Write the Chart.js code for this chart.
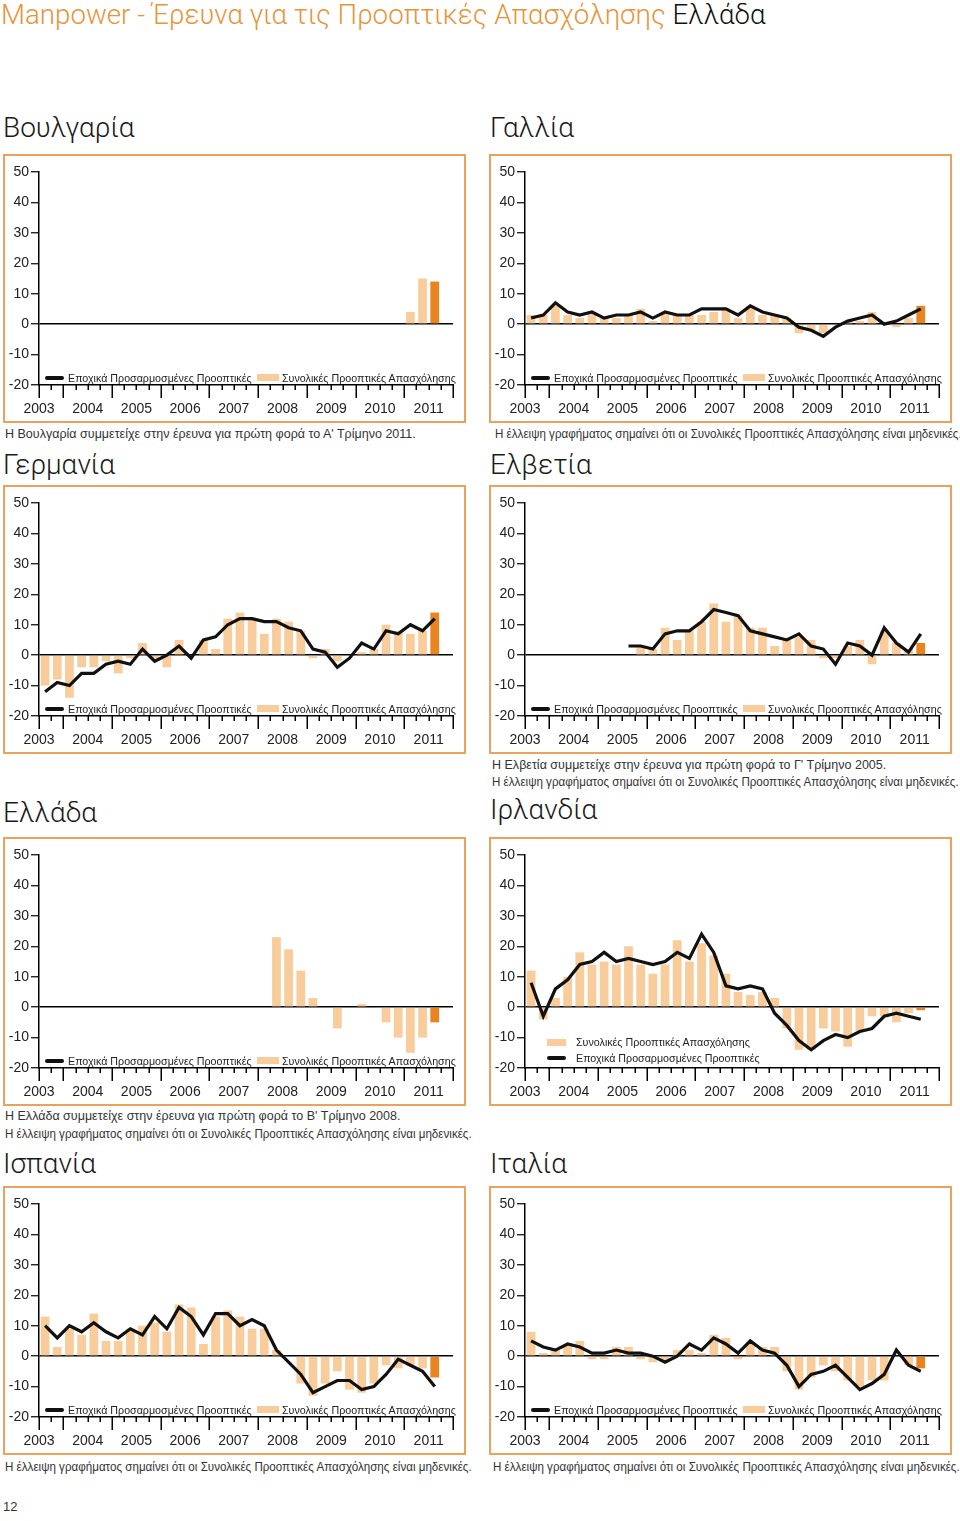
<!DOCTYPE html>
<html>
<head>
<meta charset="utf-8">
<script src="https://cdn.jsdelivr.net/npm/chart.js@4.4.0/dist/chart.umd.min.js"></script>
<style>
    body { margin: 0; width: 960px; height: 1521px; background: #fff; position: relative; overflow: hidden;
           font-family: "Liberation Sans", Arial, sans-serif; color: #222; }
    .title { position: absolute; left: 1px; top: 1px; font: 300 27.7px/28px Roboto, "Open Sans", sans-serif; color: #111; white-space: nowrap; }
    .title span { color: #e8953a; }
    .heading { position: absolute; font: 300 28px/28px Roboto, "Open Sans", sans-serif; color: #1a1a1a; white-space: nowrap; }
    .box { position: absolute; width: 459px; height: 265px; border: 2px solid #eba35b; }
    .box canvas { position: absolute; left: 0; top: 0; }
    .legend { position: absolute; font-size: 10.7px; line-height: 12px; color: #222; white-space: nowrap; }
    .swatch-line { position: absolute; width: 19px; height: 4px; background: #111; border-radius: 2px; }
    .swatch-bar { position: absolute; width: 22px; height: 7px; background: #f9cc9c; }
    .note { position: absolute; font-size: 13px; line-height: 17px; color: #333; white-space: nowrap; }
    .note span { display: inline-block; transform-origin: left center; }
    .note .first { transform: scaleX(0.963); }
    .note .empty { transform: scaleX(0.893); }
</style>
</head>
<body>

<div class="title"><span>Manpower - Έρευνα για τις Προοπτικές Απασχόλησης</span> Ελλάδα</div>

<div class="heading" style="left:3px;top:114px">Βουλγαρία</div>
<div class="heading" style="left:490px;top:114px">Γαλλία</div>
<div class="heading" style="left:3px;top:451px">Γερμανία</div>
<div class="heading" style="left:490px;top:451px">Ελβετία</div>
<div class="heading" style="left:3px;top:799px">Ελλάδα</div>
<div class="heading" style="left:490px;top:796px">Ιρλανδία</div>
<div class="heading" style="left:3px;top:1150px">Ισπανία</div>
<div class="heading" style="left:490px;top:1150px">Ιταλία</div>

<div class="box" id="box-bg" style="left:3px;top:154px"><canvas id="chartBulgaria" width="459" height="265"></canvas></div>
<div class="box" id="box-fr" style="left:489px;top:154px"><canvas id="chartFrance" width="459" height="265"></canvas></div>
<div class="box" id="box-de" style="left:3px;top:485px"><canvas id="chartGermany" width="459" height="265"></canvas></div>
<div class="box" id="box-ch" style="left:489px;top:485px"><canvas id="chartSwitzerland" width="459" height="265"></canvas></div>
<div class="box" id="box-gr" style="left:3px;top:837px"><canvas id="chartGreece" width="459" height="265"></canvas></div>
<div class="box" id="box-ie" style="left:489px;top:837px"><canvas id="chartIreland" width="459" height="265"></canvas></div>
<div class="box" id="box-es" style="left:3px;top:1186px"><canvas id="chartSpain" width="459" height="265"></canvas></div>
<div class="box" id="box-it" style="left:489px;top:1186px"><canvas id="chartItaly" width="459" height="265"></canvas></div>

<div class="note" style="left:5px;top:425px"><span class="first">Η Βουλγαρία συμμετείχε στην έρευνα για πρώτη φορά το Α' Τρίμηνο 2011.</span></div>
<div class="note" style="left:495px;top:425px"><span class="empty">Η έλλειψη γραφήματος σημαίνει ότι οι Συνολικές Προοπτικές Απασχόλησης είναι μηδενικές.</span></div>
<div class="note" style="left:492px;top:757px;line-height:16.5px"><span class="first">Η Ελβετία συμμετείχε στην έρευνα για πρώτη φορά το Γ' Τρίμηνο 2005.</span><br><span class="empty">Η έλλειψη γραφήματος σημαίνει ότι οι Συνολικές Προοπτικές Απασχόλησης είναι μηδενικές.</span></div>
<div class="note" style="left:5px;top:1107px;line-height:18px"><span class="first">Η Ελλάδα συμμετείχε στην έρευνα για πρώτη φορά το Β' Τρίμηνο 2008.</span><br><span class="empty">Η έλλειψη γραφήματος σημαίνει ότι οι Συνολικές Προοπτικές Απασχόλησης είναι μηδενικές.</span></div>
<div class="note" style="left:5px;top:1458px"><span class="empty">Η έλλειψη γραφήματος σημαίνει ότι οι Συνολικές Προοπτικές Απασχόλησης είναι μηδενικές.</span></div>
<div class="note" style="left:493px;top:1458px"><span class="empty">Η έλλειψη γραφήματος σημαίνει ότι οι Συνολικές Προοπτικές Απασχόλησης είναι μηδενικές.</span></div>
<div class="note" style="left:3px;top:1498px">12</div>

<script>
// Quarters on the x axis (the last slot, 2011-Q4, stays empty)
const quarters = [
    '2003-Q3', '2003-Q4',
    '2004-Q1', '2004-Q2', '2004-Q3', '2004-Q4',
    '2005-Q1', '2005-Q2', '2005-Q3', '2005-Q4',
    '2006-Q1', '2006-Q2', '2006-Q3', '2006-Q4',
    '2007-Q1', '2007-Q2', '2007-Q3', '2007-Q4',
    '2008-Q1', '2008-Q2', '2008-Q3', '2008-Q4',
    '2009-Q1', '2009-Q2', '2009-Q3', '2009-Q4',
    '2010-Q1', '2010-Q2', '2010-Q3', '2010-Q4',
    '2011-Q1', '2011-Q2', '2011-Q3', '2011-Q4'
];
const yearLabels = ['2003', '2004', '2005', '2006', '2007', '2008', '2009', '2010', '2011'];
const yTicks = [-20, -10, 0, 10, 20, 30, 40, 50];

const LEGEND_ADJ = 'Εποχικά Προσαρμοσμένες Προοπτικές';
const LEGEND_TOTAL = 'Συνολικές Προοπτικές Απασχόλησης';

// Net employment outlook, 2003-Q3 .. 2011-Q3
const bulgariaTotal = [null, null, null, null, null, null, null, null, null, null, null, null, null, null, null,
    null, null, null, null, null, null, null, null, null, null, null, null, null, null, null, 4, 15, 14];
const bulgariaAdjusted = [];

const franceTotal = [3, 3, 6, 3, 2, 4, 2, 2, 3, 5, 1, 4, 3, 3, 3, 4, 5, 2, 6, 3, 3, 2, -3, -2, -3, 0, 1, 1, 4, 0, -1, 2, 6];
const franceAdjusted = [2, 3, 7, 4, 3, 4, 2, 3, 3, 4, 2, 4, 3, 3, 5, 5, 5, 3, 6, 4, 3, 2, -1, -2, -4, -1, 1, 2, 3, 0, 1, 3, 5];

const germanyTotal = [-10, -8, -14, -4, -4, -2, -6, -1, 4, -1, -4, 5, 0, 5, 2, 12, 14, 12, 7, 12, 11, 8, -1, 2, -2, 0, 1, 2, 10, 8, 7, 8, 14];
const germanyAdjusted = [-12, -9, -10, -6, -6, -3, -2, -3, 2, -2, 0, 3, -1, 5, 6, 10, 12, 12, 11, 11, 9, 8, 2, 1, -4, -1, 4, 2, 8, 7, 10, 8, 12];

const switzerlandTotal = [null, null, null, null, null, null, null, null,
    0, 3, 2, 9, 5, 8, 11, 17, 11, 13, 9, 9, 3, 5, 6, 5, -1, -1, 3, 5, -3, 8, 4, 2, 4];
const switzerlandAdjusted = [null, null, null, null, null, null, null, null,
    3, 3, 2, 7, 8, 8, 11, 15, 14, 13, 8, 7, 6, 5, 7, 3, 2, -3, 4, 3, 0, 9, 4, 1, 7];

const greeceTotal = [null, null, null, null, null, null, null, null, null, null, null, null, null, null, null, null, null, null, null,
    23, 19, 12, 3, 0, -7, 0, 1, 0, -5, -10, -15, -10, -5];
const greeceAdjusted = [];

const irelandTotal = [12, -4, 3, 10, 18, 14, 15, 14, 20, 14, 11, 14, 22, 15, 21, 17, 11, 5, 4, 5, 3, -7, -14, -14, -7, -8, -13, -8, -3, -3, -5, -2, -1];
const irelandAdjusted = [8, -3, 6, 9, 14, 15, 18, 15, 16, 15, 14, 15, 18, 16, 24, 18, 7, 6, 7, 6, -2, -6, -11, -14, -11, -9, -10, -8, -7, -3, -2, -3, -4];

const spainTotal = [13, 3, 9, 7, 14, 5, 5, 9, 10, 11, 8, 17, 16, 4, 13, 15, 13, 9, 9, 2, 0, -9, -13, -9, -5, -11, -12, -9, -3, -4, -3, -4, -7];
const spainAdjusted = [10, 6, 10, 8, 11, 8, 6, 9, 7, 13, 9, 16, 13, 7, 14, 14, 10, 12, 10, 2, -2, -6, -12, -10, -8, -8, -11, -10, -6, -1, -3, -5, -10];

const italyTotal = [8, 1, 2, 4, 5, -1, -1, 3, 3, -1, -2, -2, 2, 2, 1, 7, 6, -1, 4, 3, 3, -5, -11, -7, -3, -5, -8, -10, -8, -8, 0, -3, -4];
const italyAdjusted = [5, 3, 2, 4, 3, 1, 1, 2, 1, 1, 0, -2, 0, 4, 2, 6, 4, 1, 5, 2, 1, -3, -10, -6, -5, -3, -7, -11, -9, -6, 2, -3, -5];

const BAR_COLOR = '#f9cc9c';
const CURRENT_BAR_COLOR = '#ea8420';

// year label sits in the middle of its calendar year (Q1 .. Q4)
const yearCenters = yearLabels.map(y => {
    const i = quarters.findIndex(q => q.startsWith(y));
    const q = Number(quarters[i].slice(-1));
    return i - (q - 1) + 1.5;
});

// long ticks between years, short ones between quarters
const quarterTicks = {
    id: 'quarterTicks',
    afterDraw(chart) {
        const { ctx, chartArea } = chart;
        const scale = chart.scales.years;
        ctx.save();
        ctx.strokeStyle = '#000';
        ctx.lineWidth = 1.5;
        for (let i = 0; i <= quarters.length; i++) {
            const major = i === 0 || i === quarters.length || quarters[i].endsWith('Q1');
            const x = Math.round(scale.getPixelForValue(i - 0.5)) + 0.25;
            ctx.beginPath();
            ctx.moveTo(x, chartArea.bottom);
            ctx.lineTo(x, chartArea.bottom + (major ? 13 : 5));
            ctx.stroke();
        }
        ctx.restore();
    }
};

function drawChart(canvasId, total, adjusted) {
    return new Chart(document.getElementById(canvasId), {
        type: 'bar',
        data: {
            labels: quarters,
            datasets: [
                {
                    type: 'line',
                    label: LEGEND_ADJ,
                    data: adjusted,
                    borderColor: '#111',
                    borderWidth: 3.2,
                    pointRadius: 0,
                    tension: 0,
                    fill: false,
                    order: 0
                },
                {
                    type: 'bar',
                    label: LEGEND_TOTAL,
                    data: total,
                    backgroundColor: ctx => ctx.dataIndex === total.length - 1 ? CURRENT_BAR_COLOR : BAR_COLOR,
                    borderWidth: 0,
                    barPercentage: 0.72,
                    categoryPercentage: 1,
                    order: 1
                }
            ]
        },
        options: {
            responsive: false,
            animation: false,
            layout: { padding: { left: 0, right: 11, top: 16, bottom: 0 } },
            plugins: {
                legend: { display: false },
                tooltip: { enabled: false }
            },
            scales: {
                x: { type: 'category', display: false, offset: true },
                years: {
                    type: 'linear',
                    position: 'bottom',
                    offset: false,
                    min: -0.5,
                    max: quarters.length - 0.5,
                    afterBuildTicks: s => { s.ticks = yearCenters.map(v => ({ value: v })); },
                    ticks: {
                        callback: (v, i) => yearLabels[i],
                        color: '#222',
                        font: { size: 14, family: 'Liberation Sans' },
                        padding: 16,
                        autoSkip: false,
                        maxRotation: 0
                    },
                    grid: { display: false, drawTicks: false, offset: false },
                    border: { display: true, color: '#000', width: 1.5 },
                    afterFit: s => { s.height = 36; }
                },
                y: {
                    min: -20,
                    max: 50,
                    z: 1,
                    afterBuildTicks: s => { s.ticks = yTicks.map(v => ({ value: v })); },
                    ticks: { color: '#222', font: { size: 14, family: 'Liberation Sans' }, padding: 2 },
                    grid: {
                        color: c => c.tick && c.tick.value === 0 ? '#000' : 'rgba(0,0,0,0)',
                        lineWidth: 1.5,
                        tickLength: 8,
                        tickColor: '#000',
                        tickWidth: 1.2
                    },
                    border: { display: true, color: '#000', width: 1.5 },
                    afterFit: s => { s.width = 34; }
                }
            }
        },
        plugins: [quarterTicks]
    });
}

// legend inside the plot, just above the x axis
function addLegend(boxId, stacked) {
    const box = document.getElementById(boxId);
    let html;
    if (stacked) {
        html = `<div class="swatch-bar" style="left:56px;top:200px;width:19px"></div>
                <div class="legend" style="left:85px;top:197px">${LEGEND_TOTAL}</div>
                <div class="swatch-line" style="left:56px;top:217px"></div>
                <div class="legend" style="left:85px;top:213px">${LEGEND_ADJ}</div>`;
    } else {
        html = `<div class="swatch-line" style="left:40px;top:220px"></div>
                <div class="legend" style="left:63px;top:216px">${LEGEND_ADJ}</div>
                <div class="swatch-bar" style="left:252px;top:218px"></div>
                <div class="legend" style="left:277px;top:216px">${LEGEND_TOTAL}</div>`;
    }
    box.insertAdjacentHTML('beforeend', html);
}

drawChart('chartBulgaria', bulgariaTotal, bulgariaAdjusted);
drawChart('chartFrance', franceTotal, franceAdjusted);
drawChart('chartGermany', germanyTotal, germanyAdjusted);
drawChart('chartSwitzerland', switzerlandTotal, switzerlandAdjusted);
drawChart('chartGreece', greeceTotal, greeceAdjusted);
drawChart('chartIreland', irelandTotal, irelandAdjusted);
drawChart('chartSpain', spainTotal, spainAdjusted);
drawChart('chartItaly', italyTotal, italyAdjusted);

['box-bg', 'box-fr', 'box-de', 'box-ch', 'box-gr', 'box-es', 'box-it'].forEach(id => addLegend(id, false));
addLegend('box-ie', true);
</script>
</body>
</html>
